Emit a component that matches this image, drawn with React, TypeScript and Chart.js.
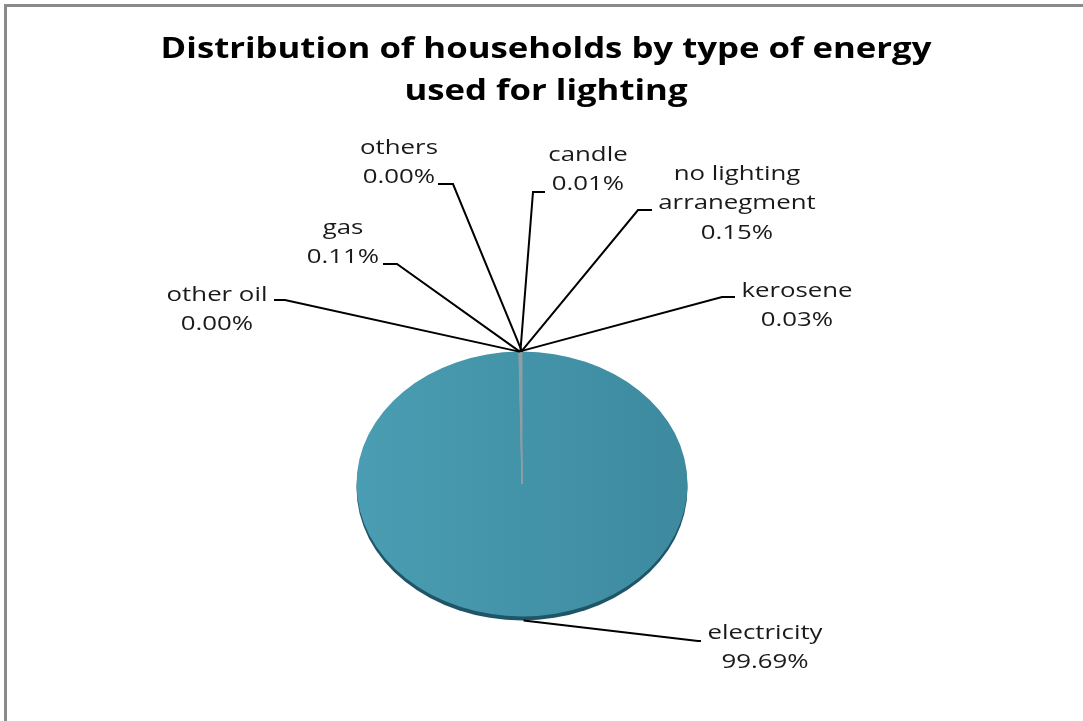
import { useEffect, useRef } from "react";
import { Chart, registerables } from "chart.js";

Chart.register(...registerables);

// ---- data ----
const categories = [
  "electricity",
  "kerosene",
  "other oil",
  "gas",
  "candle",
  "no lighting arranegment",
  "others",
];
const shares = [99.69, 0.03, 0.0, 0.11, 0.01, 0.15, 0.0];
const titleLines = ["Distribution of households by type of energy", "used for lighting"];

// ---- layout (positions of the label blocks, not data) ----
const labelNameLines: string[][] = [
  ["electricity"],
  ["kerosene"],
  ["other oil"],
  ["gas"],
  ["candle"],
  ["no lighting", "arranegment"],
  ["others"],
];
const labelLayout = [
  { cx: 765, y0: 633, ex: 698, ey: 641, hx: 701 },
  { cx: 797, y0: 291, ex: 722, ey: 297, hx: 735 },
  { cx: 217, y0: 295, ex: 285, ey: 300, hx: 274 },
  { cx: 343, y0: 228, ex: 397, ey: 264, hx: 383 },
  { cx: 588, y0: 155, ex: 533, ey: 192, hx: 545 },
  { cx: 737, y0: 174, ex: 638, ey: 210, hx: 652 },
  { cx: 399, y0: 148, ex: 453, ey: 184, hx: 438 },
];

const Y_SCALE = 0.8;
const SIDE_DEPTH = 4;
const LABEL_SX = 1.29;
const TITLE_SX = 1.24;

const ellipsePlugin = {
  id: "ellipse3d",
  beforeDatasetsDraw(chart: any) {
    const meta = chart.getDatasetMeta(0);
    const arc = meta.data[0];
    if (!arc) return;
    const { x, y, outerRadius } = arc.getProps(["x", "y", "outerRadius"], true);
    const ctx = chart.ctx;
    ctx.save();
    // side of the disc
    ctx.beginPath();
    ctx.ellipse(x, y + SIDE_DEPTH, outerRadius, outerRadius * Y_SCALE, 0, 0, Math.PI * 2);
    ctx.fillStyle = "#1f5566";
    ctx.fill();
    ctx.translate(0, y);
    ctx.scale(1, Y_SCALE);
    ctx.translate(0, -y);
  },
  afterDatasetsDraw(chart: any) {
    chart.ctx.restore();
  },
};

const labelPlugin = {
  id: "leaderLabels",
  afterDraw(chart: any) {
    const ctx = chart.ctx;
    const meta = chart.getDatasetMeta(0);
    // title
    ctx.save();
    ctx.fillStyle = "#000";
    ctx.font = "bold 28px 'Open Sans'";
    ctx.textAlign = "center";
    ctx.textBaseline = "alphabetic";
    titleLines.forEach((t, i) => {
      ctx.save();
      ctx.translate(546, 58 + i * 42);
      ctx.scale(TITLE_SX, 1);
      ctx.fillText(t, 0, 0);
      ctx.restore();
    });
    ctx.restore();

    meta.data.forEach((el: any, i: number) => {
      const { x, y, startAngle, endAngle, outerRadius } = el.getProps(
        ["x", "y", "startAngle", "endAngle", "outerRadius"],
        true
      );
      const mid = (startAngle + endAngle) / 2;
      const px = x + Math.cos(mid) * outerRadius;
      const s = Math.sin(mid);
      const py = y + s * outerRadius * Y_SCALE + (s > 0.5 ? SIDE_DEPTH : 0);
      const L = labelLayout[i];
      ctx.save();
      ctx.strokeStyle = "#000";
      ctx.lineWidth = 2;
      ctx.beginPath();
      ctx.moveTo(px, py);
      ctx.lineTo(L.ex, L.ey);
      ctx.lineTo(L.hx, L.ey);
      ctx.stroke();
      const lines = [...labelNameLines[i], shares[i].toFixed(2) + "%"];
      ctx.fillStyle = "#1a1a1a";
      ctx.font = "20px 'Open Sans'";
      ctx.textAlign = "center";
      ctx.textBaseline = "middle";
      lines.forEach((t, k) => {
        ctx.save();
        ctx.translate(L.cx, L.y0 + k * 29.5);
        ctx.scale(LABEL_SX, 1);
        ctx.fillText(t, 0, 0);
        ctx.restore();
      });
      ctx.restore();
    });
  },
};

export default function App() {
  const ref = useRef<HTMLCanvasElement | null>(null);
  useEffect(() => {
    if (!ref.current) return;
    const chart = new Chart(ref.current, {
      type: "pie",
      data: {
        labels: categories,
        datasets: [
          {
            data: shares,
            backgroundColor: (c: any) => {
              if (c.dataIndex !== 0) return "#8e9ea4";
              const area = c.chart.chartArea;
              if (!area) return "#4594a9";
              const g = c.chart.ctx.createLinearGradient(area.left, 0, area.right, 0);
              g.addColorStop(0, "#4a9db2");
              g.addColorStop(1, "#3d8a9f");
              return g;
            },
            borderColor: shares.map((_, i) => (i === 0 ? "rgba(0,0,0,0)" : "#8e9ea4")),
            borderWidth: shares.map((_, i) => (i === 0 ? 0 : 1)),
            hoverOffset: 0,
            offset: 0,
          },
        ],
      },
      options: {
        animation: false,
        responsive: false,
        layout: { padding: { left: 356, right: 395, top: 318, bottom: 71 } },
        plugins: {
          legend: { display: false },
          tooltip: { enabled: false },
          title: { display: false },
        },
        events: [],
      },
      plugins: [ellipsePlugin, labelPlugin],
    });
    return () => chart.destroy();
  }, []);

  return (
    <div
      style={{
        position: "fixed",
        left: 0,
        top: 0,
        width: 1083,
        height: 721,
        overflow: "hidden",
        background: "#fff",
      }}
    >
      <div
        style={{
          position: "absolute",
          left: 4,
          top: 4,
          width: 1200,
          height: 900,
          border: "3px solid #8a8a8a",
        }}
      />
      <canvas ref={ref} width={1083} height={721} style={{ position: "absolute", left: 0, top: 0 }} />
    </div>
  );
}
